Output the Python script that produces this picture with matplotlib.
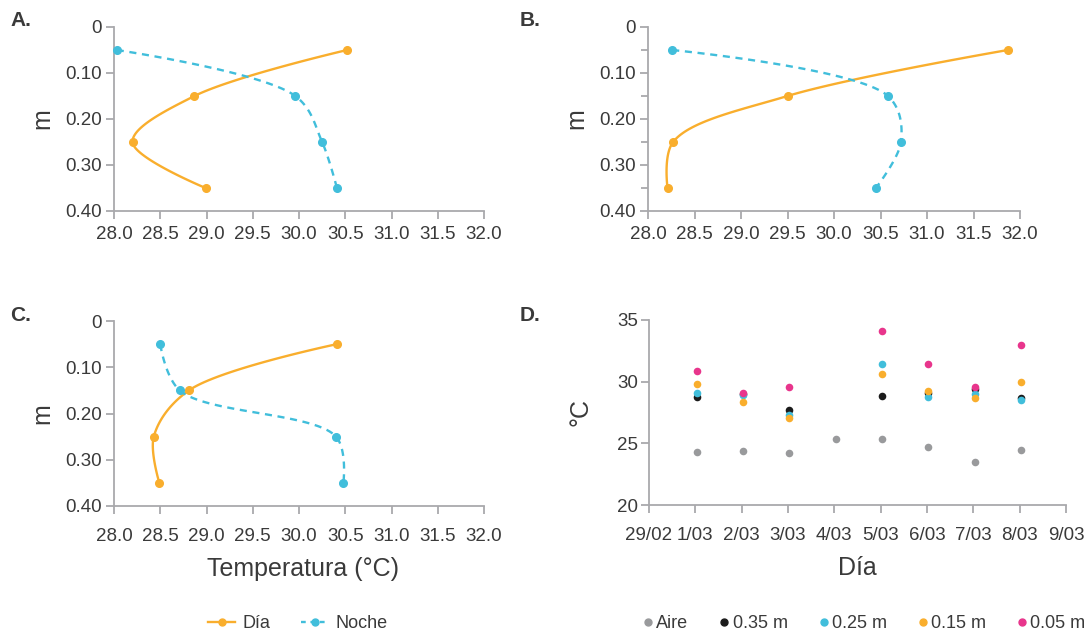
import numpy as np
import matplotlib
matplotlib.use("Agg")
import matplotlib.pyplot as plt
from matplotlib.lines import Line2D

plt.rcParams['font.family'] = ['Liberation Sans', 'DejaVu Sans']

# ---------------- data ----------------
depths = [0.05, 0.15, 0.25, 0.35]
a_dia = [30.52, 28.87, 28.20, 28.99]
a_noche = [28.03, 29.96, 30.25, 30.41]
b_dia = [31.87, 29.50, 28.27, 28.21]
b_noche = [28.26, 30.58, 30.72, 30.45]
c_dia = [30.41, 28.81, 28.43, 28.49]
c_noche = [28.50, 28.71, 30.40, 30.48]

temp_ticks = [28.0, 28.5, 29.0, 29.5, 30.0, 30.5, 31.0, 31.5, 32.0]
temp_labels = ["28.0", "28.5", "29.0", "29.5", "30.0", "30.5", "31.0", "31.5", "32.0"]
depth_ticks = [0, 0.10, 0.20, 0.30, 0.40]
depth_labels = ["0", "0.10", "0.20", "0.30", "0.40"]

dias = ["29/02", "1/03", "2/03", "3/03", "4/03", "5/03", "6/03", "7/03", "8/03", "9/03"]
aire_x = [1, 2, 3, 4, 5, 6, 7, 8]
aire = [24.30, 24.41, 24.24, 25.32, 25.32, 24.73, 23.46, 24.43]
prof_x = [1, 2, 3, 5, 6, 7, 8]
t035 = [28.73, 29.00, 27.70, 28.81, 29.10, 29.38, 28.68]
t025 = [29.05, 28.92, 27.30, 31.41, 28.76, 29.00, 28.51]
t015 = [29.78, 28.35, 27.05, 30.62, 29.27, 28.68, 30.00]
t005 = [30.86, 29.05, 29.54, 34.08, 31.46, 29.57, 32.95]
d_ticks = [20, 25, 30, 35]

ORANGE = "#F9AE2D"
BLUE = "#41BEDB"
PINK = "#E8358C"
GRAY = "#999A9C"
BLACK = "#1B1B1B"
AXC = "#A9A9AC"
TXT = "#3A3A3A"


def catmull_rom(ax, xs, ys, alpha=0.5, n=40):
    """Centripetal Catmull-Rom through the data points, computed in display space."""
    P = ax.transData.transform(np.column_stack([xs, ys]).astype(float))
    N = len(P)
    t = np.linspace(0, 1, n)[:, None]
    out = []
    for i in range(N - 1):
        p1, p2 = P[i], P[i + 1]
        d12 = np.hypot(*(p2 - p1))
        l12a, l12_2a = d12 ** alpha, d12 ** (2 * alpha)
        c1, c2 = p1.copy(), p2.copy()
        if i > 0:
            p0 = P[i - 1]
            d01 = np.hypot(*(p1 - p0))
            l01a, l01_2a = d01 ** alpha, d01 ** (2 * alpha)
            a = 2 * l01_2a + 3 * l01a * l12a + l12_2a
            nn = 3 * l01a * (l01a + l12a)
            c1 = (p1 * a - p0 * l12_2a + p2 * l01_2a) / nn
        if i < N - 2:
            p3 = P[i + 2]
            d23 = np.hypot(*(p3 - p2))
            l23a, l23_2a = d23 ** alpha, d23 ** (2 * alpha)
            b = 2 * l23_2a + 3 * l23a * l12a + l12_2a
            m = 3 * l23a * (l23a + l12a)
            c2 = (p2 * b + p1 * l23_2a - p3 * l12_2a) / m
        seg = ((1 - t) ** 3) * p1 + 3 * ((1 - t) ** 2) * t * c1 + 3 * (1 - t) * t ** 2 * c2 + t ** 3 * p2
        out.append(seg)
    return ax.transData.inverted().transform(np.vstack(out))


fig = plt.figure(figsize=(10.9, 6.33), dpi=100)

W, H = 1090.0, 633.0


def axes_px(l, t, r, b):
    return fig.add_axes([l / W, 1 - b / H, (r - l) / W, (b - t) / H])


def style(ax):
    for s in ["top", "right"]:
        ax.spines[s].set_visible(False)
    for s in ["left", "bottom"]:
        ax.spines[s].set_color(AXC)
        ax.spines[s].set_linewidth(1.3)
    ax.tick_params(colors=AXC, labelcolor=TXT, labelsize=13.5, width=1.3, length=6)
    ax.tick_params(axis="y", which="minor", colors=AXC, width=1.3, length=5)


def profile(ax, dia, noche, xpad, minor=False):
    style(ax)
    ax.set_xlim(28.0, 32.0)
    ax.set_ylim(0.40, 0)
    cd = catmull_rom(ax, dia, depths)
    cn = catmull_rom(ax, noche, depths)
    ax.plot(cd[:, 0], cd[:, 1], color=ORANGE, lw=1.7, solid_capstyle="round", zorder=3)
    ax.plot(cn[:, 0], cn[:, 1], color=BLUE, lw=1.7, dashes=(3, 2.4), zorder=3)
    ax.plot(dia, depths, "o", color=ORANGE, ms=5.5, zorder=4, clip_on=False)
    ax.plot(noche, depths, "o", color=BLUE, ms=5.5, zorder=4, clip_on=False)
    ax.set_xlim(28.0, 32.0)
    ax.set_ylim(0.40, 0)
    ax.set_xticks(temp_ticks)
    ax.set_xticklabels(temp_labels)
    ax.set_yticks(depth_ticks)
    ax.set_yticklabels(depth_labels)
    if minor:
        ax.set_yticks(depths, minor=True)
    ax.tick_params(axis="x", pad=xpad)
    ax.tick_params(axis="y", pad=3)
    ax.set_ylabel("m", fontsize=18, color=TXT)
    ax.yaxis.set_label_coords(-0.16, 0.5)


axA = axes_px(114, 27, 484, 211)
profile(axA, a_dia, a_noche, 5)
axB = axes_px(648, 27, 1020, 211)
profile(axB, b_dia, b_noche, 5, minor=True)
axC = axes_px(114, 321, 484, 506)
profile(axC, c_dia, c_noche, 10)
axC.set_xlabel("Temperatura (°C)", fontsize=18, color=TXT)
axC.xaxis.set_label_coords(0.51, -0.275)

axD = axes_px(649, 320, 1066, 505)
style(axD)
off = 0.03
axD.scatter(np.array(aire_x) + off, aire, s=30, color=GRAY, zorder=3, linewidths=0)
axD.scatter(np.array(prof_x) + off, t035, s=30, color=BLACK, zorder=3, linewidths=0)
axD.scatter(np.array(prof_x) + off, t025, s=30, color=BLUE, zorder=3, linewidths=0)
axD.scatter(np.array(prof_x) + off, t015, s=30, color=ORANGE, zorder=3, linewidths=0)
axD.scatter(np.array(prof_x) + off, t005, s=30, color=PINK, zorder=3, linewidths=0)
axD.set_xlim(0, len(dias) - 1)
axD.set_ylim(20, 35)
axD.set_xticks(range(len(dias)))
axD.set_xticklabels(dias)
axD.set_yticks(d_ticks)
axD.set_yticklabels([str(v) for v in d_ticks])
axD.tick_params(axis="x", pad=10)
axD.tick_params(axis="y", pad=2)
axD.set_ylabel("°C", fontsize=18, color=TXT)
axD.yaxis.set_label_coords(-0.135, 0.5)
axD.set_xlabel("Día", fontsize=18, color=TXT)
axD.xaxis.set_label_coords(0.5, -0.275)

for lab, x, y in [("A.", 10, 26), ("B.", 520, 26), ("C.", 10, 321), ("D.", 520, 321)]:
    fig.text(x / W, 1 - y / H, lab, fontsize=15, fontweight="bold", color=TXT)

# legends
h_dia = Line2D([], [], color=ORANGE, lw=1.7, marker="o", ms=5)
h_noche = Line2D([], [], color=BLUE, lw=1.7, dashes=(2, 2), marker="o", ms=5)
fig.legend([h_dia, h_noche], ["Día", "Noche"], loc="center",
           bbox_to_anchor=(298 / W, 1 - 624 / H), ncol=2, frameon=False,
           fontsize=13, handlelength=1.5, handletextpad=0.4, columnspacing=1.7,
           labelcolor=TXT)


def dot(c):
    return Line2D([], [], linestyle="none", marker="o", ms=5, color=c)


fig.legend([dot(GRAY), dot(BLACK), dot(BLUE), dot(ORANGE), dot(PINK)],
           ["Aire", "0.35 m", "0.25 m", "0.15 m", "0.05 m"], loc="center",
           bbox_to_anchor=(864 / W, 1 - 624 / H), ncol=5, frameon=False,
           fontsize=13, handlelength=0.6, handletextpad=0.15, columnspacing=1.7,
           labelcolor=TXT)

fig.savefig("out.png", dpi=100)
